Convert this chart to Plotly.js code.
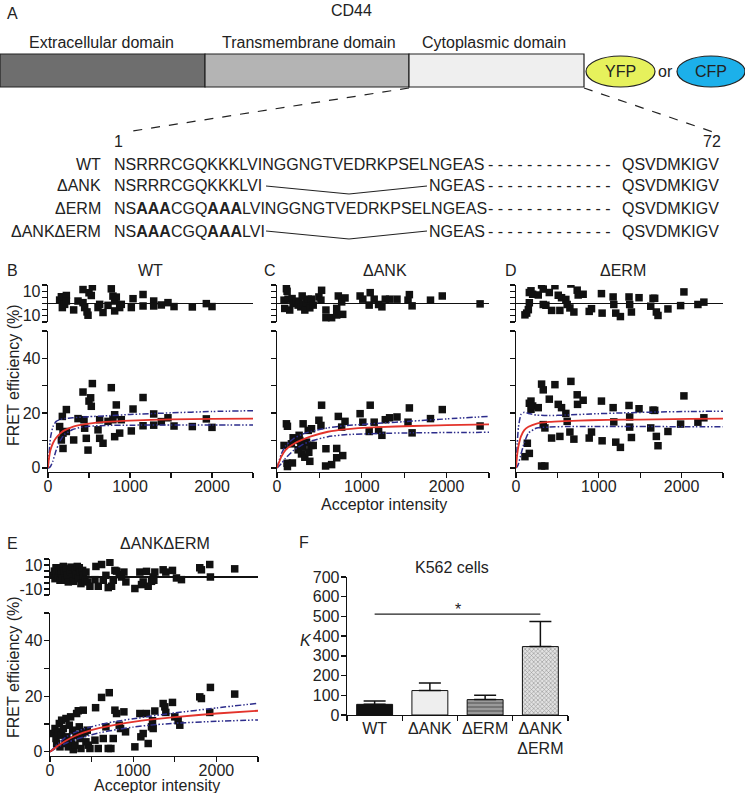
<!DOCTYPE html>
<html>
<head>
<meta charset="utf-8">
<script src="https://cdn.plot.ly/plotly-3.0.1.min.js"></script>
<style>html,body{margin:0;padding:0;background:#fff}#chart{width:745px;height:793px}</style>
</head>
<body>
<div id="chart"></div>
<script>
// ---------------- DATA ----------------
// Panel B (WT)
const B_x = [142,175,224,183,163,183,224,313,366,427,439,447,467,488,500,520,528,541,610,630,671,630,732,772,792,813,833,813,874,894,1016,1037,1159,1159,1289,1289,1382,1463,1537,1760,1931,2000];
const B_y = [15.1,18.8,21.3,12.7,10.2,7.1,13.3,10.2,18,27.7,17.6,14.5,10.8,6.5,24.4,25.6,22.5,30.8,13.9,10.8,9,17.6,17,29.3,17.6,19.4,23,11.4,12.7,17.6,13.5,21.5,25.7,15.4,19.7,15.6,16.9,18.3,15.3,15.1,17.9,14.8];
const B_rx = [142,163,175,203,224,224,313,366,427,427,447,476,488,500,528,541,610,630,671,732,772,792,813,833,813,874,894,1016,1037,1159,1159,1289,1289,1382,1463,1537,1760,1931,2000];
const B_r  = [2.8,5.5,-3.3,-0.7,6.5,2,-5.2,2,11.3,0.7,-3.3,-6.8,-9.5,8.7,6.5,13.5,-3.3,-0.7,-7.3,-1.5,11.9,6,2,5.2,-6,-3.3,-0.7,-3.3,3.9,7.3,-2,2,-2,-1.2,0.7,-2.5,-2.8,-0.1,-2.5];
const B_fitX = [0,10,30,60,100,150,200,300,400,500,700,1000,1500,2000,2500];
const B_fit  = [0,3,6.5,9,11,12.6,13.7,15,15.7,16.2,16.8,17.3,17.7,17.9,18];
const B_up   = [0,4,11,15,17,17.7,18,18.3,18.5,18.7,19,19.5,20.1,20.6,20.9];
const B_lo   = [0,0,0.5,2.5,6.5,10,12.2,14,14.8,15.2,15.5,15.6,15.7,15.7,15.7];

// Panel C (ΔANK)
const C_x = [83,111,123,119,123,182,170,190,229,249,261,269,281,289,308,308,328,348,368,375,387,399,407,427,494,518,526,577,573,644,704,704,723,763,775,802,980,1012,1087,1099,1146,1198,1237,1277,1328,1415,1545,1561,1593,1810,1949,2395];
const C_y = [8.2,16.1,15.2,1.7,0.5,1.8,8.8,11,10.3,6.6,11.9,10,8.8,5.1,16.1,7.6,3.9,9.4,13.7,5.7,2.4,8.2,14.3,8.2,17.4,15.5,22.9,7,0.7,1.2,7.1,3.7,18.8,14.9,4.5,17,19.8,16.7,13.3,22.9,16.7,13.7,11.9,17.6,18.3,18.6,16.7,21.9,12.8,18,21.3,15.3];
const C_rx = [83,111,119,91,130,150,178,190,229,249,261,281,297,308,328,348,368,387,407,427,494,518,526,577,577,644,704,704,723,763,775,802,980,1012,1087,1099,1146,1198,1237,1277,1328,1415,1545,1561,1593,1810,1949,2395];
const C_r  = [2.7,12,9.9,-4,3.5,-5.3,4,0,1.9,-1.3,0.8,-2.7,6.1,-0.8,-5.3,0.8,3.5,-3.5,3.5,-1.3,5.3,2.7,10.7,-5.3,-11.5,-11.5,-9.3,-4,6.1,1.3,-8.8,4.5,6.1,3.5,-1.3,8.8,3.5,-0.8,-2.7,3.5,3.5,3.5,2.7,7.2,-1.9,2.7,6.1,-0.3];
const C_fitX = [0,50,100,200,300,400,600,800,1200,1600,2000,2500];
const C_fit  = [0,4,6.5,8.8,10.3,11.5,13.2,14.1,14.9,15.3,15.6,15.9];
const C_up   = [0,5,8,10.8,12.3,13.3,14.6,15.4,16.3,17.1,17.9,18.8];
const C_lo   = [0,1.5,3.5,6.5,8.5,9.8,11.4,12.1,12.6,12.8,12.9,13];

// Panel D (ΔERM)
const D_x = [108,161,137,161,181,181,201,269,309,329,309,349,329,349,402,430,470,530,510,550,602,618,651,663,699,739,743,811,884,912,1032,1040,1173,1181,1205,1261,1365,1373,1373,1394,1486,1627,1655,1675,1695,1715,1835,1988,2028,2197,2269];
const D_y = [4.1,5.3,9,23.6,24.4,21.4,22.6,22,30.6,28.5,0.7,0.7,15.8,14.6,25.1,10.9,30.4,11.5,23.2,22,19.9,17,13.1,31.6,10.5,26.7,23.2,24.7,10.9,13.1,24.4,9.9,22,16.8,9.4,7.5,22.8,18.6,14.9,11.1,21.6,14.6,21.1,21,11.5,8.1,13.3,16,26.3,16.7,18.3];
const D_rx = [108,129,149,161,161,181,201,269,309,329,329,361,402,430,470,510,530,550,602,618,651,663,699,739,751,811,884,912,1032,1040,1173,1181,1205,1261,1365,1373,1394,1486,1627,1655,1675,1695,1715,1835,1988,2028,2197,2269];
const D_r  = [-9.2,-7.8,-5,0.6,8.9,10.3,7.5,6.9,15,11.7,-0.8,-1.4,8.9,-5.6,14.4,6.7,-5.6,4.7,3.3,-0.8,-3.6,15.8,-6.9,10.8,6.9,7.5,-6.4,-4.2,8,-7.8,5.3,-0.8,-7.8,-10.6,5.3,-0.8,-6.9,4.7,-2.2,4.2,4.2,-6.9,-9.7,-4.4,-1.7,9.4,-0.8,1.1];
const D_fitX = [0,15,30,60,100,150,250,400,600,900,1300,1700,2100,2500];
const D_fit  = [0,5,8,11.5,13.8,15,16.2,16.8,17.1,17.4,17.6,17.7,17.9,18];
const D_up   = [0,9,15,19.5,20.3,19.9,19.3,19.1,19.3,19.7,20.1,20.4,20.6,20.7];
const D_lo   = [0,0.5,1.5,5,9.2,12.7,14.6,14.9,15.1,15.1,15.1,15.1,15,15];

// Panel E (ΔANKΔERM)
const E_x = [40,60,72,80,100,112,120,140,140,160,180,192,200,220,232,248,260,272,280,300,312,320,340,352,360,372,392,400,420,432,448,460,480,540,548,580,620,640,672,700,712,732,760,780,800,832,848,888,908,1020,1080,1092,1120,1160,1180,1220,1232,1240,1260,1360,1380,1392,1472,1500,1540,1560,1800,1820,1920,1928,2220];
const E_y = [6.6,8.4,4.8,3,7.2,10.2,1.8,6,11.4,8.4,3,12,5.4,1.8,9.6,12.6,4.2,7.8,0.8,2.4,6,13.8,14.8,9,4.8,1.2,6.6,15,7.2,3.6,7.8,2.4,1.2,4.2,15.9,1.2,19.6,4.8,9,1.2,21.3,1.2,4.8,15,13.8,9.6,8.4,14.4,7.2,1.8,13.8,5.4,6.6,13.8,3,9,11.2,8.4,14.7,17.4,16.2,14.2,17.8,12.6,11.2,9.6,19.8,19.2,14.2,23.2,20.8];
const E_rx = [40,52,60,72,80,100,112,120,132,140,152,160,172,180,200,212,220,240,252,272,280,300,312,328,340,352,360,372,392,400,420,432,448,480,540,552,580,620,640,672,700,720,740,760,780,800,832,860,888,912,1020,1080,1100,1120,1160,1180,1220,1240,1248,1260,1360,1392,1472,1520,1580,1800,1820,1920,1928,2220];
const E_r  = [1.4,4.9,-1.4,7.7,2.7,0,5.5,-2.7,7.7,2.7,-0.8,8.8,4.9,-2.7,6.8,1.4,-4.1,4.1,8.2,0,-3.6,5.5,1.9,8.8,-1.4,7.7,4.1,-5.5,5.5,1.4,-2.7,4.1,-4.1,-7.7,-2.2,8.8,-7.7,10.4,-2.7,1.4,-8.8,12.3,-7.7,-2.7,5.5,4.9,1.9,0,4.1,-4.1,-9.6,4.1,-6.3,-4.1,4.7,-7.7,-3.6,0,-2.7,4.1,6,4.1,5.5,-0.8,-2.2,7.7,6,10.4,0,6.8];
const E_fitX = [0,100,200,300,400,600,800,1000,1200,1500,2000,2500];
const E_fit  = [0,2.3,4.2,5.7,6.9,8.6,9.8,10.8,11.6,12.5,13.8,14.8];
const E_up   = [0,3,5.5,7,8.2,9.8,11,11.9,12.8,14,15.8,17.5];
const E_lo   = [0,1.8,3.2,4.4,5.3,6.9,8,8.9,9.6,10.3,11,11.5];

// Panel F (K562 cells)
const F_groups = ["WT", "ΔANK", "ΔERM", "ΔANK<br>ΔERM"];
const F_K      = [54, 124, 78, 347];
const F_err    = [17, 38, 22, 127];
const F_sigY   = 512;

// Axis tick labels
const xTickVals = [0,500,1000,1500,2000,2500];
const xTickText = ["0","","1000","","2000",""];
const yTickVals = [0,10,20,30,40,50];
const yTickText = ["0","","20","","40",""];
const rTickVals = [-15,-10,-5,0,5,10,15];
const rTickText = ["","-10","","","","10",""];

// ---------------- LAYOUT HELPERS ----------------
const W = 745, H = 793;
const px = x => x / W;
const py = y => 1 - y / H;
const FONT = "Liberation Sans, Arial, Helvetica, sans-serif";
const TXT = "#222";

const axBase = {
  showline: true, linecolor: "#111", linewidth: 1.3,
  ticks: "outside", ticklen: 5, tickwidth: 1.3, tickcolor: "#111",
  showgrid: false, zeroline: false, fixedrange: true,
  tickfont: {family: FONT, size: 16, color: TXT}
};

function xMain(l, r, anchor, labels) {
  return Object.assign({}, axBase, {domain: [px(l), px(r)], range: [0, 2500], anchor,
    ticklabelstandoff: -6,
    tickmode: "array", tickvals: xTickVals, ticktext: labels ? xTickText : xTickVals.map(() => "")});
}
function yMain(bot, top, anchor, labels) {
  return Object.assign({}, axBase, {domain: [py(bot), py(top)], range: [-1.5, 50], anchor,
    ticklabelstandoff: -2,
    tickmode: "array", tickvals: yTickVals, ticktext: labels ? yTickText : yTickVals.map(() => "")});
}
function xTop(l, r, anchor) {
  return {domain: [px(l), px(r)], range: [0, 2500], anchor, visible: false, fixedrange: true};
}
function yTop(bot, top, anchor, labels) {
  return Object.assign({}, axBase, {domain: [py(bot), py(top)], range: [-15, 15], anchor,
    ticklabelstandoff: -2,
    tickmode: "array", tickvals: rTickVals, ticktext: labels ? rTickText : rTickVals.map(() => ""),
    zeroline: true, zerolinecolor: "#111", zerolinewidth: 1.3});
}

const sq = {symbol: "square", size: 7.5, color: "#111"};
const redL = {color: "#e3332b", width: 1.8, shape: "spline", smoothing: 0.5};
const bluL = {color: "#2d2d8c", width: 1.5, dash: "6px,2px,1.5px,2px,1.5px,2px", shape: "spline", smoothing: 0.5};

function panelTraces(xs, ys, rxs, rs, fx, fit, up, lo, xa, ya, xa2, ya2) {
  return [
    {type: "scatter", mode: "markers", x: xs, y: ys, xaxis: xa, yaxis: ya, marker: sq, hoverinfo: "skip"},
    {type: "scatter", mode: "markers", x: rxs, y: rs, xaxis: xa2, yaxis: ya2, marker: sq, hoverinfo: "skip"},
    {type: "scatter", mode: "lines", x: fx, y: up, xaxis: xa, yaxis: ya, line: bluL, hoverinfo: "skip"},
    {type: "scatter", mode: "lines", x: fx, y: lo, xaxis: xa, yaxis: ya, line: bluL, hoverinfo: "skip"},
    {type: "scatter", mode: "lines", x: fx, y: fit, xaxis: xa, yaxis: ya, line: redL, hoverinfo: "skip"}
  ];
}

const data = [].concat(
  panelTraces(B_x, B_y, B_rx, B_r, B_fitX, B_fit, B_up, B_lo, "x", "y", "x2", "y2"),
  panelTraces(C_x, C_y, C_rx, C_r, C_fitX, C_fit, C_up, C_lo, "x3", "y3", "x4", "y4"),
  panelTraces(D_x, D_y, D_rx, D_r, D_fitX, D_fit, D_up, D_lo, "x5", "y5", "x6", "y6"),
  panelTraces(E_x, E_y, E_rx, E_r, E_fitX, E_fit, E_up, E_lo, "x7", "y7", "x8", "y8"),
  [{
    type: "bar", x: F_groups, y: F_K, xaxis: "x9", yaxis: "y9", width: 0.65,
    marker: {
      color: ["#111111", "#eeeeee", "#9a9a9a", "#e2e2e2"],
      line: {color: "#111", width: 1},
      pattern: {shape: ["", "", "-", "x"], fillmode: "overlay",
                fgcolor: ["#111", "#eee", "#5a5a5a", "#555"], size: [6, 6, 4, 3], solidity: [0.3, 0.3, 0.45, 0.35]}
    },
    error_y: {type: "data", symmetric: false, array: F_err, arrayminus: F_K.map(() => 0),
              color: "#111", thickness: 1.5, width: 11},
    hoverinfo: "skip"
  }]
);

// ---------------- ANNOTATIONS ----------------
function ann(text, x, y, o) {
  return Object.assign({text, x: px(x), y: py(y), xref: "paper", yref: "paper", showarrow: false,
    xanchor: "center", yanchor: "middle", font: {family: FONT, size: 16, color: TXT}}, o || {});
}
const L = {xanchor: "left"}, R = {xanchor: "right"};
const dashes = "- - - - - - - - - - - - -";
const seqRows = [164, 186, 208, 231];
const annotations = [
  ann("A", 5, 13, L), ann("CD44", 351, 10),
  ann("Extracellular domain", 101, 43), ann("Transmembrane domain", 309, 43), ann("Cytoplasmic domain", 494, 43),
  ann("YFP", 620, 71.5), ann("or", 665, 71.5), ann("CFP", 711, 71.5),
  ann("1", 118, 145, {yanchor: "bottom", y: py(152)}), ann("72", 712, 145, {yanchor: "bottom", y: py(152)}),
  // row labels
  ann("WT", 103, seqRows[0], R), ann("ΔANK", 103, seqRows[1], R), ann("ΔERM", 103, seqRows[2], R), ann("ΔANKΔERM", 103, seqRows[3], R),
  // WT
  ann("NSRRRCGQKKKLVINGGNGTVEDRKPSELNGEAS", 112, seqRows[0], L),
  // ΔANK
  ann("NSRRRCGQKKKLVI", 112, seqRows[1], L), ann("NGEAS", 427, seqRows[1], L),
  // ΔERM
  ann("NS<b>AAA</b>CGQ<b>AAA</b>LVINGGNGTVEDRKPSELNGEAS", 112, seqRows[2], L),
  // ΔANKΔERM
  ann("NS<b>AAA</b>CGQ<b>AAA</b>LVI", 112, seqRows[3], L), ann("NGEAS", 427, seqRows[3], L),
  // B-F
  ann("B", 5, 270, L), ann("WT", 150, 270),
  ann("C", 262, 270, L), ann("ΔANK", 385, 270),
  ann("D", 503, 270, L), ann("ΔERM", 623, 270),
  ann("FRET efficiency (%)", 13, 375, {textangle: -90}),
  ann("Acceptor intensity", 384, 504),
  ann("E", 5, 543, L), ann("ΔANKΔERM", 165, 543),
  ann("FRET efficiency (%)", 13, 667, {textangle: -90}),
  ann("Acceptor intensity", 157, 785),
  ann("F", 297, 542, L), ann("K562 cells", 452, 567),
  ann("<i>K</i>", 306, 640),
  {text: "*", x: 1.5, y: F_sigY + 22, xref: "x9", yref: "y9", showarrow: false,
   font: {family: FONT, size: 16, color: TXT}}
];
seqRows.forEach(r => {
  annotations.push(ann(dashes, 486, r, L));
  annotations.push(ann("QSVDMKIGV", 721, r, R));
});

// ---------------- SHAPES (diagram) ----------------
const P = "paper";
function rect(x0, x1, y0, y1, fill) {
  return {type: "rect", xref: P, yref: P, x0: px(x0), x1: px(x1), y0: py(y1), y1: py(y0),
          fillcolor: fill, line: {color: "#222", width: 1.2}};
}
function ell(x0, x1, y0, y1, fill) {
  return {type: "circle", xref: P, yref: P, x0: px(x0), x1: px(x1), y0: py(y1), y1: py(y0),
          fillcolor: fill, line: {color: "#222", width: 1.2}};
}
function seg(x0, y0, x1, y1, dash) {
  return {type: "line", xref: P, yref: P, x0: px(x0), y0: py(y0), x1: px(x1), y1: py(y1),
          line: {color: "#222", width: 1.2, dash: dash || "solid"}};
}
const shapes = [
  rect(0, 205, 54, 87, "#6e6e6e"),
  rect(205, 409, 54, 87, "#b4b4b4"),
  rect(409, 584, 54, 87, "#efefef"),
  ell(586, 655, 56, 87, "#e6f15c"),
  ell(677, 745, 56, 87, "#1cb0ea"),
  seg(409, 88, 126, 132, "dash"),
  seg(584, 88, 713, 132, "dash"),
  seg(266, seqRows[1], 349, seqRows[1] + 8), seg(349, seqRows[1] + 8, 427, seqRows[1]),
  seg(266, seqRows[3], 349, seqRows[3] + 8), seg(349, seqRows[3] + 8, 427, seqRows[3]),
  {type: "line", xref: "x9", yref: "y9", x0: 0, x1: 3, y0: F_sigY, y1: F_sigY, line: {color: "#222", width: 1.3}}
];

// ---------------- LAYOUT ----------------
const layout = {
  width: W, height: H, margin: {l: 0, r: 0, t: 0, b: 0},
  paper_bgcolor: "#fff", plot_bgcolor: "rgba(0,0,0,0)", showlegend: false,
  font: {family: FONT, size: 16, color: TXT},
  xaxis: xMain(48, 253, "y", true),   yaxis: yMain(472, 331, "x", true),
  xaxis2: xTop(48, 253, "y2"),        yaxis2: yTop(322, 285, "x2", true),
  xaxis3: xMain(277, 489, "y3", true), yaxis3: yMain(472, 331, "x3", false),
  xaxis4: xTop(277, 489, "y4"),       yaxis4: yTop(322, 285, "x4", false),
  xaxis5: xMain(516, 723, "y5", true), yaxis5: yMain(472, 331, "x5", false),
  xaxis6: xTop(516, 723, "y6"),       yaxis6: yTop(322, 285, "x6", false),
  xaxis7: xMain(50, 258, "y7", true), yaxis7: yMain(756, 613, "x7", true),
  xaxis8: xTop(50, 258, "y8"),        yaxis8: yTop(595, 559, "x8", true),
  xaxis9: Object.assign({}, axBase, {domain: [px(347), px(568)], anchor: "y9", type: "category",
            tickson: "boundaries", range: [-0.5, 3.5], tickangle: 0, ticklabelstandoff: -2}),
  yaxis9: Object.assign({}, axBase, {domain: [py(715), py(577)], anchor: "x9", range: [0, 700],
            tickmode: "linear", tick0: 0, dtick: 100, ticklabelstandoff: -2}),
  annotations, shapes
};

Plotly.newPlot("chart", data, layout, {displayModeBar: false, staticPlot: true});
</script>
</body>
</html>
